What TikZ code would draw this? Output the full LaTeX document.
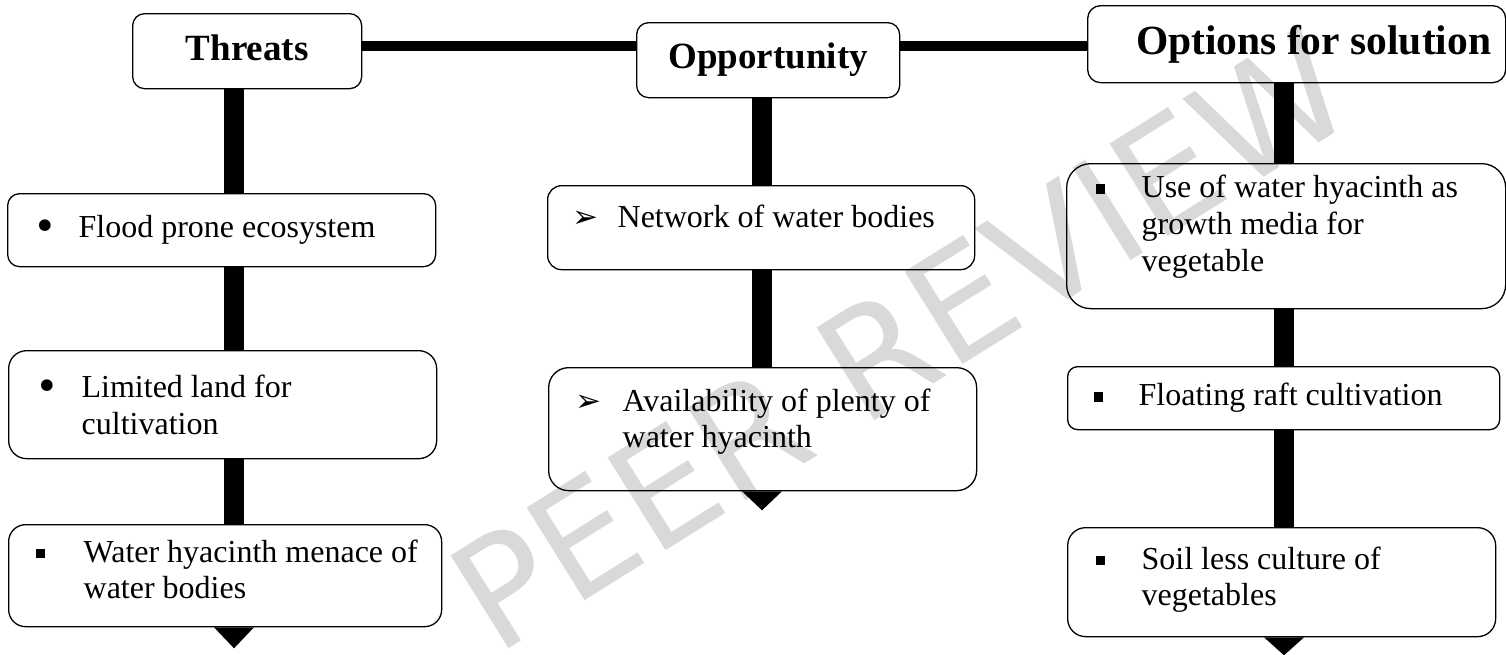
\documentclass[tikz,border=0pt]{standalone}
\usepackage{fontspec}
\setmainfont{Liberation Serif}
\newfontfamily\djv{DejaVu Sans}
% #1 box width, #2 bullet offset, #3 text offset, #4 bullet, #5 text
\newcommand\bx[5]{\makebox[#1pt][l]{\hspace*{#2pt}\makebox[\dimexpr#3pt-#2pt\relax][l]{#4}\parbox[t]{\dimexpr#1pt-#3pt\relax}{\raggedright #5}}}
\newcommand\sd[1]{\rule[-#1pt]{0pt}{#1pt}}
\newcommand\sqb{\rule[4pt]{9.5pt}{9.5pt}}
\newcommand\dotb{\raisebox{-3pt}{\djv\fontsize{40}{40}\selectfont •}}
\newcommand\arrb{{\djv\fontsize{31}{31}\selectfont ➢}}
\begin{document}
\begin{tikzpicture}[x=1pt,y=-1pt,
  box/.style={draw, fill=white, line width=1.3pt, inner sep=0pt, anchor=north west,
    font=\fontsize{32}{36.7}\selectfont},
  head/.style={box, font=\bfseries\fontsize{37}{40}\selectfont},
  hbar/.style={line width=10pt},
  vbar/.style={line width=20pt},
  tri/.style={fill=black},
  wmark/.style={text=black, text opacity=0.15, font=\djv\fontsize{150}{150}\selectfont, inner sep=0pt}
]
\useasboundingbox (0,0) rectangle (1506,654);

% helper coordinates
\coordinate (tx) at (234,0);
\coordinate (ox) at (762,0);
\coordinate (sx) at (1284,0);
\coordinate (hy) at (0,46);

% headers
\node[head, rounded corners=12pt, minimum width=229pt, minimum height=75pt] (h1) at (132,13) {Threats\sd{6}};
\node[head, rounded corners=12pt, minimum width=263pt, minimum height=75pt] (h2) at (636,22) {Opportunity};
\node[head, rounded corners=13pt, minimum width=418pt, minimum height=77pt,
      font=\bfseries\fontsize{41.5}{44}\selectfont] (h3) at (1087,5) {\hspace*{34pt}Options for solution};

% threats column
\node[box, rounded corners=12pt, minimum width=428pt, minimum height=73pt] (t1) at (7,193)
  {\bx{428}{26}{71}{\dotb}{Flood prone ecosystem}};
\node[box, rounded corners=18pt, minimum width=428pt, minimum height=108pt] (t2) at (8,350)
  {\bx{428}{27}{73}{\dotb}{Limited land for\\cultivation}};
\node[box, rounded corners=17pt, minimum width=433pt, minimum height=102pt] (t3) at (8,524)
  {\bx{433}{27}{75}{\sqb}{Water hyacinth menace of\\water bodies\sd{13}}};

% opportunity column
\node[box, rounded corners=14pt, minimum width=427pt, minimum height=84pt] (o1) at (547,185)
  {\bx{427}{25}{70}{\arrb}{Network of water bodies\sd{22}}};
\node[box, rounded corners=20pt, minimum width=428pt, minimum height=123pt] (o2) at (548,367)
  {\bx{428}{27}{74}{\arrb}{Availability of plenty of\\water hyacinth\sd{22}}};

% options column
\node[box, rounded corners=24pt, minimum width=439pt, minimum height=145pt] (s1) at (1066,163)
  {\bx{439}{29}{75}{\sqb}{Use of water hyacinth as\\growth media for\\vegetable\sd{26}}};
\node[box, rounded corners=10pt, minimum width=432pt, minimum height=63pt] (s2) at (1067,366)
  {\bx{432}{26}{71}{\sqb}{Floating raft cultivation}};
\node[box, rounded corners=18pt, minimum width=428pt, minimum height=109pt] (s3) at (1067,527)
  {\bx{428}{28}{74}{\sqb}{Soil less culture of\\vegetables\sd{12}}};

% horizontal connectors
\draw[hbar] (h1.east |- hy) -- (h2.west |- hy);
\draw[hbar] (h2.east |- hy) -- (h3.west |- hy);

% vertical connectors
\draw[vbar] (h1.south -| tx) -- (t1.north -| tx);
\draw[vbar] (t1.south -| tx) -- (t2.north -| tx);
\draw[vbar] (t2.south -| tx) -- (t3.north -| tx);
\draw[vbar] (h2.south -| ox) -- (o1.north -| ox);
\draw[vbar] (o1.south -| ox) -- (o2.north -| ox);
\draw[vbar] (h3.south -| sx) -- (s1.north -| sx);
\draw[vbar] (s1.south -| sx) -- (s2.north -| sx);
\draw[vbar] (s2.south -| sx) -- (s3.north -| sx);

% end triangles
\fill[tri] (t3.south -| tx) ++(-20,0) -- ++(40,0) -- ++(-20,21) -- cycle;
\fill[tri] (o2.south -| ox) ++(-20,0) -- ++(40,0) -- ++(-20,19) -- cycle;
\fill[tri] (s3.south -| sx) ++(-20,0) -- ++(40,0) -- ++(-20,18) -- cycle;

% watermark, semi-transparent, over everything
\node[wmark, rotate=32] (wm) at (900,340) {PEER REVIEW};
\end{tikzpicture}
\end{document}
